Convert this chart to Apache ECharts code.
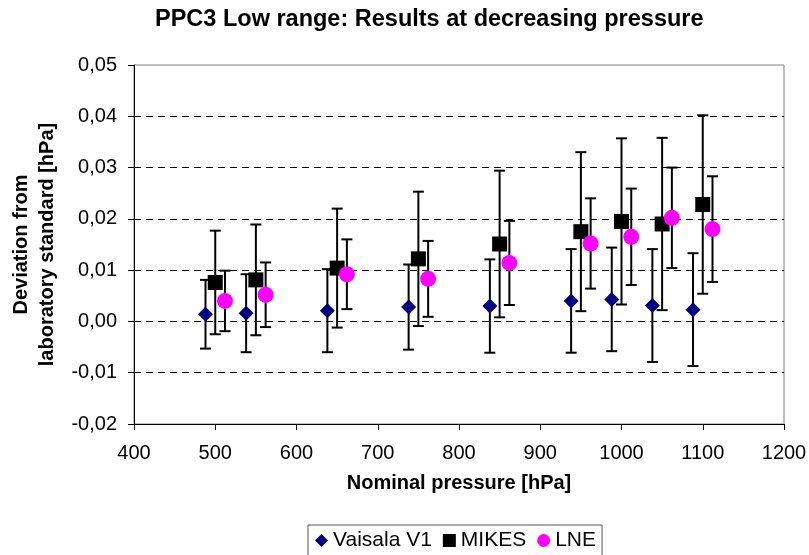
<!DOCTYPE html>
<html>
<head>
<meta charset="utf-8">
<script src="https://cdn.jsdelivr.net/npm/echarts@6/dist/echarts.min.js"></script>
<style>
  html, body { margin: 0; padding: 0; background: #fff; }
  #chart { width: 809px; height: 555px; }
</style>
</head>
<body>
<div id="chart"></div>
<script>
// nominal pressures (hPa); Vaisala and LNE are plotted slightly shifted
const vaisalaX = [488, 538, 638, 738, 838, 938, 988, 1038, 1088]
const mikesX = [500, 550, 650, 750, 850, 950, 1000, 1050, 1100]
const lneX = [512, 562, 662, 762, 862, 962, 1012, 1062, 1112]

// deviation from laboratory standard [hPa]
const vaisalaY = [0.0014, 0.0016, 0.0021, 0.0028, 0.0030, 0.0040, 0.0043, 0.0031, 0.0023]
const mikesY = [0.0076, 0.0081, 0.0104, 0.0122, 0.0151, 0.0175, 0.0195, 0.0190, 0.0228]
const lneY = [0.0040, 0.0052, 0.0092, 0.0083, 0.0114, 0.0152, 0.0165, 0.0202, 0.0180]

// uncertainties (half length of error bars)
const vaisalaU = [0.0067, 0.0076, 0.0081, 0.0083, 0.0091, 0.0101, 0.0101, 0.0110, 0.0110]
const mikesU = [0.0101, 0.0108, 0.0116, 0.0131, 0.0143, 0.0155, 0.0162, 0.0168, 0.0174]
const lneU = [0.0059, 0.0063, 0.0068, 0.0074, 0.0082, 0.0088, 0.0094, 0.0098, 0.0103]

const names = ['Vaisala V1', 'MIKES', 'LNE']

function pts (xs, ys) {
  return xs.map((x, i) => [x, ys[i]])
}
function bars (xs, ys, us) {
  return xs.map((x, i) => [x, ys[i] - us[i], ys[i] + us[i]])
}

function renderBar (params, api) {
  const x = api.value(0)
  const lo = api.coord([x, api.value(1)])
  const hi = api.coord([x, api.value(2)])
  const w = 5.5
  const style = { stroke: '#000', lineWidth: 2 }
  return {
    type: 'group',
    children: [
      { type: 'line', shape: { x1: lo[0], y1: lo[1], x2: hi[0], y2: hi[1] }, style: style },
      { type: 'line', shape: { x1: lo[0] - w, y1: lo[1], x2: lo[0] + w, y2: lo[1] }, style: style },
      { type: 'line', shape: { x1: hi[0] - w, y1: hi[1], x2: hi[0] + w, y2: hi[1] }, style: style }
    ]
  }
}

function errSeries (data) {
  return {
    type: 'custom',
    renderItem: renderBar,
    data: data,
    encode: { x: 0, y: [1, 2] },
    z: 1,
    silent: true
  }
}

const chart = echarts.init(document.getElementById('chart'))
chart.setOption({
  animation: false,
  textStyle: { fontFamily: 'Liberation Sans, Arial, sans-serif' },
  title: {
    text: 'PPC3 Low range: Results at decreasing pressure',
    left: 155,
    top: 8,
    padding: 0,
    textStyle: { fontSize: 23.5, fontWeight: 'bold', color: '#000' }
  },
  legend: {
    data: names,
    left: 308,
    top: 525,
    itemGap: 11,
    itemWidth: 13,
    itemHeight: 13,
    padding: [5, 6, 8, 7],
    borderColor: '#555',
    borderWidth: 1,
    borderRadius: 0,
    textStyle: { fontSize: 21, color: '#000' }
  },
  grid: {
    left: 134,
    right: 25,
    top: 65,
    bottom: 131,
    outerBoundsMode: 'none',
    show: true,
    borderColor: '#808080',
    borderWidth: 1
  },
  xAxis: {
    type: 'value',
    min: 400,
    max: 1200,
    interval: 100,
    name: 'Nominal pressure [hPa]',
    nameLocation: 'middle',
    nameGap: 49,
    nameTextStyle: { fontSize: 20, fontWeight: 'bold', color: '#000' },
    axisLine: { onZero: false, lineStyle: { color: '#000', width: 1 } },
    axisTick: { inside: false, length: 6, lineStyle: { color: '#000' } },
    axisLabel: { fontSize: 20, color: '#000', margin: 19, formatter: v => String(v) },
    splitLine: { show: false }
  },
  yAxis: {
    type: 'value',
    min: -0.02,
    max: 0.05,
    interval: 0.01,
    name: 'Deviation from\nlaboratory standard [hPa]',
    nameLocation: 'middle',
    nameRotate: 90,
    nameGap: 73,
    nameTextStyle: { fontSize: 20, fontWeight: 'bold', color: '#000', lineHeight: 26 },
    axisLine: { show: true, lineStyle: { color: '#000', width: 1 } },
    axisTick: { show: true, inside: false, length: 6, lineStyle: { color: '#000' } },
    axisLabel: {
      fontSize: 20,
      color: '#000',
      margin: 17,
      formatter: v => (Math.round(v * 100) / 100).toFixed(2).replace('.', ',').replace('-0,00', '0,00')
    },
    splitLine: {
      show: true,
      showMaxLine: false,
      lineStyle: { color: '#000', type: [7, 5], width: 1 }
    }
  },
  series: [
    errSeries(bars(vaisalaX, vaisalaY, vaisalaU)),
    errSeries(bars(mikesX, mikesY, mikesU)),
    errSeries(bars(lneX, lneY, lneU)),
    {
      name: names[0],
      type: 'scatter',
      symbol: 'diamond',
      symbolSize: 15,
      itemStyle: { color: '#000080', opacity: 1 },
      data: pts(vaisalaX, vaisalaY),
      z: 3
    },
    {
      name: names[1],
      type: 'scatter',
      symbol: 'rect',
      symbolSize: 15,
      itemStyle: { color: '#000000', opacity: 1 },
      data: pts(mikesX, mikesY),
      z: 3
    },
    {
      name: names[2],
      type: 'scatter',
      symbol: 'circle',
      symbolSize: 16,
      itemStyle: { color: '#ff00ff', opacity: 1 },
      data: pts(lneX, lneY),
      z: 3
    }
  ]
})
</script>
</body>
</html>
